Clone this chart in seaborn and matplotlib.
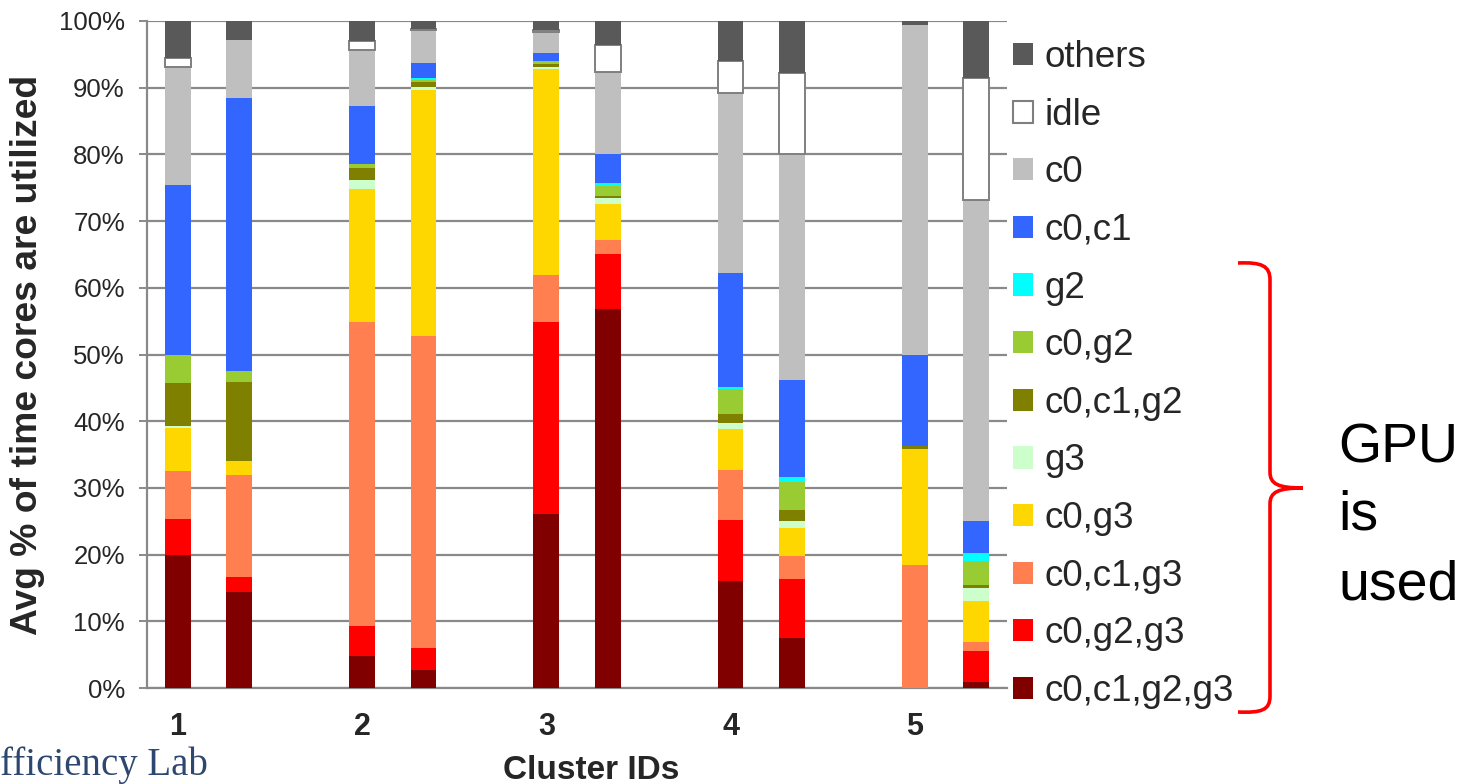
import numpy as np
import matplotlib
matplotlib.use("Agg")
import matplotlib.pyplot as plt
import seaborn as sns
from matplotlib.patches import Patch, PathPatch
from matplotlib.path import Path

sns.set_theme(style="white")
plt.rcParams["font.family"] = ["Liberation Sans", "DejaVu Sans"]

# Slots on the category axis: two bars per cluster, one empty slot between clusters
n_slots = 14
bar_slots = [0, 1, 3, 4, 6, 7, 9, 10, 12, 13]
cluster_ids = ["1", "2", "3", "4", "5"]
cluster_slots = [0, 3, 6, 9, 12]

# Core/GPU state shares (percent of time), one value per bar, stacked bottom to top
c0_c1_g2_g3 = [19.9, 14.4, 4.85, 2.7, 26.1, 56.8, 16.1, 7.55, 0.0, 0.95]
c0_g2_g3 = [5.4, 2.2, 4.5, 3.3, 28.7, 8.3, 9.1, 8.8, 0.0, 4.6]
c0_c1_g3 = [7.2, 15.3, 45.5, 46.7, 7.1, 2.05, 7.5, 3.45, 18.45, 1.3]
c0_g3 = [6.5, 2.1, 19.9, 37.0, 30.9, 5.4, 6.1, 4.2, 17.35, 6.25]
g3 = [0.3, 0.0, 1.45, 0.4, 0.35, 0.85, 1.0, 1.0, 0.0, 1.85]
c0_c1_g2 = [6.4, 11.9, 1.8, 0.7, 0.35, 0.4, 1.3, 1.7, 0.5, 0.5]
c0_g2 = [4.3, 1.7, 0.6, 0.4, 0.5, 1.5, 3.7, 4.15, 0.0, 3.6]
g2 = [0.0, 0.0, 0.0, 0.2, 0.0, 0.35, 0.3, 0.75, 0.0, 1.25]
c0_c1 = [25.4, 40.8, 8.6, 2.25, 1.25, 4.35, 17.1, 14.6, 13.6, 4.7]
c0 = [17.7, 8.8, 8.4, 5.0, 3.05, 12.35, 26.95, 33.8, 49.45, 48.2]
idle = [1.3, 0.0, 1.35, 0.2, 0.35, 4.05, 4.85, 12.25, 0.0, 18.3]
others = [5.6, 2.8, 3.0, 1.1, 1.35, 3.6, 6.0, 7.75, 0.65, 8.5]

state_names = ["c0,c1,g2,g3", "c0,g2,g3", "c0,c1,g3", "c0,g3", "g3", "c0,c1,g2",
               "c0,g2", "g2", "c0,c1", "c0", "idle", "others"]
state_values = [c0_c1_g2_g3, c0_g2_g3, c0_c1_g3, c0_g3, g3, c0_c1_g2,
                c0_g2, g2, c0_c1, c0, idle, others]
state_colors = ["#800000", "#FF0000", "#FF7F50", "#FFD700", "#CCFFCC", "#808000",
                "#99CC33", "#00FFFF", "#3366FF", "#BFBFBF", "#FFFFFF", "#595959"]

W, H = 1463, 784
fig = plt.figure(figsize=(W / 100, H / 100), dpi=100)
ax = fig.add_axes([147 / W, 1 - 688 / H, 860 / W, 667 / H])

grey = "#898989"
bottom = np.zeros(len(bar_slots))
for name, vals, col in zip(state_names, state_values, state_colors):
    vals = np.asarray(vals, dtype=float)
    sns.barplot(x=bar_slots, y=vals, order=list(range(n_slots)), bottom=bottom,
                color=col, saturation=1, width=0.42, errorbar=None,
                linewidth=0, edgecolor=col, ax=ax, zorder=3)
    if name == "idle":
        for patch, v in zip(ax.containers[-1], vals):
            if v > 0:
                patch.set_edgecolor("#7F7F7F")
                patch.set_linewidth(1.4)
    bottom = bottom + vals

# Axes styling
ax.set_ylim(0, 100)
ax.set_xlim(-0.5, n_slots - 0.5)
ax.set_yticks(np.arange(0, 101, 10))
ax.set_yticklabels([f"{v}%" for v in range(0, 101, 10)], fontsize=18.5)
ax.yaxis.grid(True, color=grey, linewidth=1.6, zorder=0)
ax.xaxis.grid(False)
ax.set_axisbelow(True)
for s in ["top", "right"]:
    ax.spines[s].set_visible(False)
for s in ["left", "bottom"]:
    ax.spines[s].set_color(grey)
    ax.spines[s].set_linewidth(1.6)

ax.set_xticks(cluster_slots)
ax.set_xticklabels(cluster_ids, fontsize=22, fontweight="bold")
ax.set_xticks(np.arange(-0.5, n_slots, 1.0), minor=True)
ax.tick_params(axis="x", which="major", length=0, pad=17.5)
ax.tick_params(axis="x", which="minor", length=7, width=1.4, color=grey, direction="out")
ax.tick_params(axis="y", which="major", length=6, width=1.4, color=grey, direction="out", pad=10, left=True)

ax.set_ylabel("Avg % of time cores are utilized", fontsize=26.8, fontweight="bold")
ax.yaxis.set_label_coords(-0.119, 0.5)
ax.set_xlabel("Cluster IDs", fontsize=24, fontweight="bold")
ax.xaxis.set_label_coords(0.517, -0.1)

# Legend, top state first
handles = []
for name, col in zip(state_names[::-1], state_colors[::-1]):
    ec = "#7F7F7F" if name == "idle" else col
    handles.append(Patch(facecolor=col, edgecolor=ec, linewidth=1.5 if name == "idle" else 0, label=name))
fig.legend(handles=handles, loc="upper left", bbox_to_anchor=(1013 / W, 1 - 40 / H),
           frameon=False, fontsize=26.5, handlelength=0.55, handleheight=0.55,
           handletextpad=0.3, labelspacing=0.615, borderpad=0, borderaxespad=0)

# Overlay in pixel coordinates for the brace and annotations
ov = fig.add_axes([0, 0, 1, 1], facecolor="none")
ov.set_xlim(0, W)
ov.set_ylim(H, 0)
ov.axis("off")

verts = [(1238, 263), (1262, 262), (1270, 266), (1270, 280),
         (1270, 472),
         (1270, 484), (1278, 488), (1303, 488),
         (1303, 488), (1278, 488), (1270, 492), (1270, 504),
         (1270, 696),
         (1270, 710), (1262, 713), (1238, 712)]
codes = [Path.MOVETO, Path.CURVE4, Path.CURVE4, Path.CURVE4,
         Path.LINETO,
         Path.CURVE4, Path.CURVE4, Path.CURVE4,
         Path.MOVETO, Path.CURVE4, Path.CURVE4, Path.CURVE4,
         Path.LINETO,
         Path.CURVE4, Path.CURVE4, Path.CURVE4]
ov.add_patch(PathPatch(Path(verts, codes), facecolor="none", edgecolor="#FF0000", linewidth=2.6))

for txt, yb in [("GPU", 462), ("is", 530), ("used", 600)]:
    ov.text(1338, yb, txt, fontsize=40, ha="left", va="baseline", color="black")

ov.text(0, 775, "fficiency Lab", fontsize=28, ha="left", va="baseline",
        color="#2D4770", family=["Liberation Serif", "DejaVu Serif"])

fig.savefig("out.png", dpi=100)
